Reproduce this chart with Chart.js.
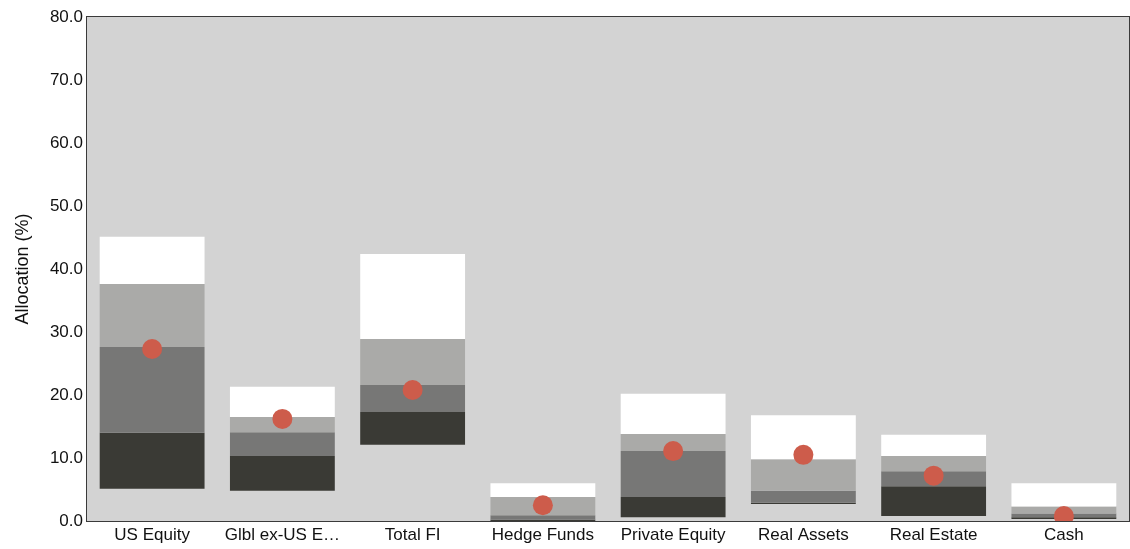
<!DOCTYPE html>
<html>
<head>
<meta charset="utf-8">
<script src="https://cdn.jsdelivr.net/npm/chart.js@4/dist/chart.umd.min.js"></script>
<style>
html,body{margin:0;padding:0;background:#fff;}
#wrap{width:1130px;height:549px;position:relative;}
</style>
</head>
<body>
<div id="wrap"><canvas id="c" width="1130" height="549"></canvas></div>
<script>
const categories = ['US Equity','Glbl ex-US E\u2026','Total FI','Hedge Funds','Private Equity','Real Assets','Real Estate','Cash'];
const p5  = [5.1, 4.8, 12.1, 0.0, 0.6, 2.7, 0.8, 0.3];
const p25 = [14.0, 10.3, 17.3, 0.2, 3.8, 2.9, 5.5, 0.6];
const p50 = [27.6, 14.1, 21.6, 0.9, 11.1, 4.8, 7.9, 1.2];
const p75 = [37.6, 16.5, 28.9, 3.8, 13.8, 9.8, 10.3, 2.3];
const p95 = [45.1, 21.3, 42.4, 6.0, 20.2, 16.8, 13.7, 6.0];
const allocation = [27.3, 16.2, 20.8, 2.5, 11.1, 10.5, 7.2, 0.8];
const yTicks = [0, 10, 20, 30, 40, 50, 60, 70, 80];

const range = (lo, hi) => lo.map((v, i) => [v, hi[i]]);
const FONT = '"Liberation Sans", Arial, sans-serif';

const framePlugin = {
  id: 'frame',
  beforeDatasetsDraw(chart) {
    const {ctx, chartArea: a} = chart;
    ctx.save();
    ctx.fillStyle = '#d3d3d3';
    ctx.fillRect(a.left, a.top, a.right - a.left, a.bottom - a.top);
    ctx.restore();
  },
  afterDraw(chart) {
    const {ctx, chartArea: a} = chart;
    ctx.save();
    ctx.strokeStyle = '#3a3a3a';
    ctx.lineWidth = 1;
    ctx.strokeRect(a.left - 0.5, a.top - 0.5, a.right - a.left + 1, a.bottom - a.top + 1);
    ctx.restore();
  }
};

const barCommon = {type: 'bar', grouped: false, barPercentage: 0.805, categoryPercentage: 1, borderWidth: 0, order: 2};

new Chart(document.getElementById('c'), {
  data: {
    labels: categories,
    datasets: [
      {...barCommon, label: '75th-95th', data: range(p75, p95), backgroundColor: '#ffffff'},
      {...barCommon, label: '50th-75th', data: range(p50, p75), backgroundColor: '#aaaaa8'},
      {...barCommon, label: '25th-50th', data: range(p25, p50), backgroundColor: '#777776'},
      {...barCommon, label: '5th-25th', data: range(p5, p25), backgroundColor: '#3a3a35'},
      {type: 'line', label: 'Allocation', data: allocation, showLine: false, order: 0,
       pointRadius: 10, pointHoverRadius: 10, pointBackgroundColor: '#cd5c4b', pointBorderWidth: 0, borderColor: '#cd5c4b'}
    ]
  },
  options: {
    responsive: false,
    animation: false,
    devicePixelRatio: 1,
    layout: {autoPadding: false, padding: {top: 17, right: 1, left: 0, bottom: 0}},
    plugins: {legend: {display: false}, tooltip: {enabled: false}},
    scales: {
      x: {
        grid: {display: false, drawTicks: false},
        border: {display: false},
        ticks: {color: '#111111', font: {family: FONT, size: 17}, padding: 4, autoSkip: false, maxRotation: 0},
        afterFit(s) { s.height = 28; s.paddingLeft = 0; s.paddingRight = 0; }
      },
      y: {
        min: 0, max: 80,
        grid: {display: false, drawTicks: false},
        border: {display: false},
        afterBuildTicks(s) { s.ticks = yTicks.map(v => ({value: v})); },
        ticks: {color: '#111111', font: {family: FONT, size: 17}, padding: 4,
                callback: v => Number(v).toFixed(1)},
        title: {display: true, text: 'Allocation (%)', color: '#111111', font: {family: FONT, size: 18}, padding: {top: 12, bottom: 0}},
        afterFit(s) { s.width = 87; }
      }
    }
  },
  plugins: [framePlugin]
});
</script>
</body>
</html>
